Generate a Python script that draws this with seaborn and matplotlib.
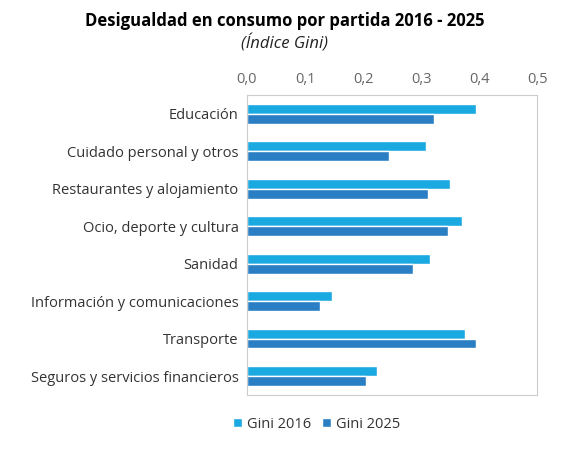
import matplotlib
matplotlib.use("Agg")
import matplotlib.pyplot as plt
import seaborn as sns
import pandas as pd
from matplotlib.ticker import FuncFormatter

CATEGORIES = [
    "Educación",
    "Cuidado personal y otros",
    "Restaurantes y alojamiento",
    "Ocio, deporte y cultura",
    "Sanidad",
    "Información y comunicaciones",
    "Transporte",
    "Seguros y servicios financieros",
]
GINI_2016 = [0.395, 0.309, 0.350, 0.371, 0.316, 0.147, 0.376, 0.224]
GINI_2025 = [0.322, 0.245, 0.312, 0.347, 0.286, 0.126, 0.395, 0.205]
SERIES = ["Gini 2016", "Gini 2025"]
COLORS = ["#1BA9E1", "#2A7FC4"]

df = pd.DataFrame({
    "partida": CATEGORIES * 2,
    "gini": GINI_2016 + GINI_2025,
    "serie": [SERIES[0]] * len(CATEGORIES) + [SERIES[1]] * len(CATEGORIES),
})

sns.set_style("white")
plt.rcParams["font.family"] = ["Open Sans", "DejaVu Sans"]

fig = plt.figure(figsize=(5.77, 4.65), dpi=100)
ax = fig.add_axes([0.428, 0.151, 0.503, 0.645])
sns.barplot(data=df, y="partida", x="gini", hue="serie", palette=COLORS,
            width=0.53, ax=ax, saturation=1)

ax.set_xlim(0, 0.5)
ax.set_xticks([0, 0.1, 0.2, 0.3, 0.4, 0.5])
ax.xaxis.set_major_formatter(FuncFormatter(lambda v, p: f"{v:.1f}".replace(".", ",")))
ax.xaxis.tick_top()
ax.tick_params(axis="x", length=0, labelsize=10.5, colors="#666666", pad=6)
ax.tick_params(axis="y", length=0, labelsize=10.5, colors="#333333", pad=6)
ax.set_xlabel("")
ax.set_ylabel("")
for s in ax.spines.values():
    s.set_color("#cccccc")
    s.set_linewidth(0.8)

leg = ax.legend(loc="upper center", bbox_to_anchor=(0.24, -0.03), ncol=2,
                frameon=False, fontsize=10.5, handlelength=0.6, handleheight=0.6,
                handletextpad=0.3, columnspacing=0.8)
for t in leg.get_texts():
    t.set_color("#333333")

fig.text(0.493, 0.945, "Desigualdad en consumo por partida 2016 - 2025",
         ha="center", fontsize=12, fontweight="bold", color="black")
fig.text(0.493, 0.895, "(Índice Gini)", ha="center", fontsize=12,
         style="italic", color="#222222")

fig.savefig("out.png", dpi=100)
